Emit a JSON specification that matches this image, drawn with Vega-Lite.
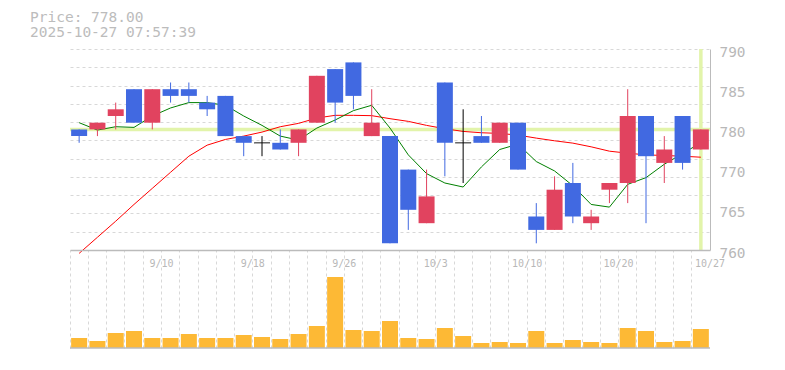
{
  "$schema": "https://vega.github.io/schema/vega-lite/v6.json",
  "background": "white",
  "padding": {"top": 9, "left": 30, "right": 5, "bottom": 5},
  "title": {
    "text": ["Price: 778.00", "2025-10-27 07:57:39"],
    "anchor": "start", "frame": "group", "dx": -40, "offset": 3,
    "font": "DejaVu Sans Mono", "fontSize": 14.5, "fontWeight": "normal",
    "color": "#bcbcbc", "lineHeight": 15.6
  },
  "datasets": {
    "k": [
      {"d": "2025-09-04", "o": 778, "h": 778, "l": 776, "c": 777, "v": 10000, "m5": 779.0, "m25": 759.5},
      {"d": "2025-09-05", "o": 778, "h": 779, "l": 777, "c": 779, "v": 7000, "m5": 777.9, "m25": 761.9},
      {"d": "2025-09-08", "o": 780, "h": 782, "l": 778, "c": 781, "v": 15000, "m5": 778.4, "m25": 764.3},
      {"d": "2025-09-09", "o": 784, "h": 784, "l": 779, "c": 779, "v": 17000, "m5": 778.3, "m25": 766.8},
      {"d": "2025-09-10", "o": 779, "h": 784, "l": 778, "c": 784, "v": 10000, "m5": 780.0, "m25": 769.2},
      {"d": "2025-09-11", "o": 784, "h": 785, "l": 782, "c": 783, "v": 10000, "m5": 781.2, "m25": 771.6},
      {"d": "2025-09-12", "o": 784, "h": 785, "l": 782, "c": 783, "v": 14000, "m5": 782.0, "m25": 774.0},
      {"d": "2025-09-16", "o": 782, "h": 783, "l": 780, "c": 781, "v": 10000, "m5": 782.0, "m25": 775.65},
      {"d": "2025-09-17", "o": 783, "h": 783, "l": 777, "c": 777, "v": 10000, "m5": 781.6, "m25": 776.5},
      {"d": "2025-09-18", "o": 777, "h": 777, "l": 774, "c": 776, "v": 13000, "m5": 780.0, "m25": 777.0},
      {"d": "2025-09-19", "o": 776, "h": 777, "l": 774, "c": 776, "v": 11000, "m5": 778.6, "m25": 777.6},
      {"d": "2025-09-22", "o": 776, "h": 778, "l": 775, "c": 775, "v": 9000, "m5": 777.0, "m25": 778.4},
      {"d": "2025-09-24", "o": 776, "h": 778, "l": 774, "c": 778, "v": 14000, "m5": 776.4, "m25": 778.9},
      {"d": "2025-09-25", "o": 779, "h": 786, "l": 779, "c": 786, "v": 22000, "m5": 778.2, "m25": 779.7},
      {"d": "2025-09-26", "o": 787, "h": 787, "l": 779, "c": 782, "v": 71000, "m5": 779.4, "m25": 780.1},
      {"d": "2025-09-29", "o": 788, "h": 788, "l": 781, "c": 783, "v": 18000, "m5": 780.8, "m25": 780.1},
      {"d": "2025-09-30", "o": 777, "h": 784, "l": 777, "c": 779, "v": 17000, "m5": 781.6, "m25": 780.05},
      {"d": "2025-10-01", "o": 777, "h": 777, "l": 761, "c": 761, "v": 27000, "m5": 778.2, "m25": 779.6},
      {"d": "2025-10-02", "o": 772, "h": 772, "l": 763, "c": 766, "v": 10000, "m5": 774.2, "m25": 779.2},
      {"d": "2025-10-03", "o": 764, "h": 772, "l": 764, "c": 768, "v": 9000, "m5": 771.4, "m25": 778.6},
      {"d": "2025-10-06", "o": 785, "h": 785, "l": 771, "c": 776, "v": 20000, "m5": 770.0, "m25": 778.1},
      {"d": "2025-10-07", "o": 776, "h": 781, "l": 770, "c": 776, "v": 12000, "m5": 769.4, "m25": 777.7},
      {"d": "2025-10-08", "o": 777, "h": 780, "l": 776, "c": 776, "v": 5000, "m5": 772.4, "m25": 777.5},
      {"d": "2025-10-09", "o": 776, "h": 779, "l": 776, "c": 779, "v": 6000, "m5": 775.0, "m25": 777.4},
      {"d": "2025-10-10", "o": 779, "h": 779, "l": 772, "c": 772, "v": 5000, "m5": 775.8, "m25": 777.15},
      {"d": "2025-10-14", "o": 765, "h": 767, "l": 761, "c": 763, "v": 17000, "m5": 773.2, "m25": 776.7},
      {"d": "2025-10-15", "o": 763, "h": 771, "l": 763, "c": 769, "v": 5000, "m5": 771.8, "m25": 776.3},
      {"d": "2025-10-16", "o": 770, "h": 773, "l": 764, "c": 765, "v": 8000, "m5": 769.6, "m25": 775.95},
      {"d": "2025-10-17", "o": 764, "h": 766, "l": 763, "c": 765, "v": 6000, "m5": 766.8, "m25": 775.4},
      {"d": "2025-10-20", "o": 769, "h": 770, "l": 767, "c": 770, "v": 5000, "m5": 766.4, "m25": 774.75},
      {"d": "2025-10-21", "o": 770, "h": 784, "l": 767, "c": 780, "v": 20000, "m5": 769.8, "m25": 774.45},
      {"d": "2025-10-22", "o": 780, "h": 780, "l": 764, "c": 774, "v": 17000, "m5": 770.8, "m25": 774.2},
      {"d": "2025-10-23", "o": 773, "h": 777, "l": 770, "c": 775, "v": 6000, "m5": 772.8, "m25": 774.1},
      {"d": "2025-10-24", "o": 780, "h": 780, "l": 772, "c": 773, "v": 7000, "m5": 774.4, "m25": 774.0},
      {"d": "2025-10-27", "o": 775, "h": 778, "l": 775, "c": 778, "v": 19000, "m5": 776.0, "m25": 773.85}
    ]
  },
  "data": {"name": "k"},
  "spacing": 0,
  "bounds": "flush",
  "vconcat": [
    {
      "width": 640,
      "height": 201,
      "layer": [
        {
          "data": {"values": [{"price": 778}]},
          "mark": {"type": "rule", "color": "#e2f4aa", "strokeWidth": 3.5},
          "encoding": {
            "y": {"field": "price", "type": "quantitative", "scale": {"domain": [760, 790], "nice": false, "zero": false}, "axis": null}
          }
        },
        {
          "data": {"values": [{"d": "2025-10-27"}]},
          "mark": {"type": "rule", "color": "#e2f4aa", "strokeWidth": 3.5},
          "encoding": {
            "x": {"field": "d", "type": "ordinal", "scale": {"type": "band", "paddingInner": 0, "paddingOuter": 0}, "axis": null}
          }
        },
        {
          "mark": {"type": "line", "color": "#ff0000", "strokeWidth": 1, "clip": false},
          "encoding": {
            "x": {"field": "d", "type": "ordinal", "scale": {"type": "band", "paddingInner": 0, "paddingOuter": 0},
                  "axis": {"bandPosition": 0, "grid": true, "labels": false, "ticks": false, "domain": false, "title": null}},
            "y": {"field": "m25", "type": "quantitative",
                  "axis": {"orient": "left", "grid": true, "labels": false, "ticks": false, "domain": false, "title": null,
                           "values": [760, 762.7273, 765.4545, 768.1818, 770.9091, 773.6364, 776.3636, 779.0909, 781.8182, 784.5455, 787.2727, 790]}}
          }
        },
        {
          "mark": {"type": "line", "color": "#008000", "strokeWidth": 1},
          "encoding": {
            "x": {"field": "d", "type": "ordinal", "scale": {"type": "band", "paddingInner": 0, "paddingOuter": 0}, "axis": null},
            "y": {"field": "m5", "type": "quantitative", "axis": null}
          }
        },
        {
          "mark": {"type": "rule", "strokeWidth": 1},
          "encoding": {
            "x": {"field": "d", "type": "ordinal", "scale": {"type": "band", "paddingInner": 0, "paddingOuter": 0}, "axis": null},
            "y": {"field": "l", "type": "quantitative",
                  "axis": {"orient": "right", "grid": false, "ticks": false, "domain": true, "title": null,
                           "values": [760, 766, 772, 778, 784, 790],
                           "labelExpr": "format(round(datum.value / 5) * 5, 'd')",
                           "labelFontSize": 14.4, "labelPadding": 9, "labelBaseline": "middle", "labelOffset": 3}},
            "y2": {"field": "h"},
            "color": {"condition": [{"test": "datum.o == datum.c", "value": "#000000"}, {"test": "datum.c > datum.o", "value": "#e1435f"}], "value": "#4169e1"}
          }
        },
        {
          "mark": {"type": "bar", "width": {"band": 0.875}},
          "encoding": {
            "x": {"field": "d", "type": "ordinal", "scale": {"type": "band", "paddingInner": 0, "paddingOuter": 0}, "axis": null},
            "y": {"field": "o", "type": "quantitative", "axis": null},
            "y2": {"field": "c"},
            "color": {"condition": {"test": "datum.c > datum.o", "value": "#e1435f"}, "value": "#4169e1"}
          }
        },
        {
          "transform": [{"filter": "datum.o == datum.c"}],
          "mark": {"type": "tick", "color": "#000000", "thickness": 1.3, "size": 16},
          "encoding": {
            "x": {"field": "d", "type": "ordinal", "scale": {"type": "band", "paddingInner": 0, "paddingOuter": 0}, "axis": null},
            "y": {"field": "c", "type": "quantitative", "axis": null}
          }
        }
      ],
      "resolve": {"axis": {"y": "independent"}}
    },
    {
      "width": 640,
      "height": 98,
      "layer": [
        {
          "mark": {"type": "bar", "color": "#fdb935", "width": {"band": 0.875}},
          "encoding": {
            "x": {"field": "d", "type": "ordinal", "scale": {"type": "band", "paddingInner": 0, "paddingOuter": 0},
                  "axis": {"orient": "top", "bandPosition": 0, "grid": true, "ticks": false, "domain": true, "domainWidth": 1.5, "title": null,
                           "labelOffset": 9.14, "labelPadding": -18, "labelFontSize": 10, "labelOverlap": false, "labelBound": false, "labelFlush": false,
                           "labelAngle": 0,
                           "labelExpr": "(datum.value == '2025-09-10' || datum.value == '2025-09-18' || datum.value == '2025-09-26' || datum.value == '2025-10-03' || datum.value == '2025-10-10' || datum.value == '2025-10-20' || datum.value == '2025-10-27') ? parseInt(substring(datum.value, 5, 7)) + '/' + parseInt(substring(datum.value, 8, 10)) : ''"}},
            "y": {"field": "v", "type": "quantitative", "scale": {"domain": [0, 98000], "nice": false},
                  "axis": {"orient": "right", "labels": false, "ticks": false, "grid": false, "domain": true, "domainWidth": 1.5, "title": null}}
          }
        },
        {
          "data": {"values": [{"v": 0}]},
          "mark": {"type": "rule", "color": "#bbbbbb", "strokeWidth": 1.5},
          "encoding": {"y": {"field": "v", "type": "quantitative", "axis": null}}
        }
      ]
    }
  ],
  "config": {
    "view": {"stroke": null},
    "axis": {
      "title": null,
      "domainColor": "#bbbbbb",
      "gridColor": "#d8d8d8",
      "gridDash": [3, 3],
      "labelColor": "#b8b8b8",
      "labelFont": "DejaVu Sans Mono"
    }
  }
}
